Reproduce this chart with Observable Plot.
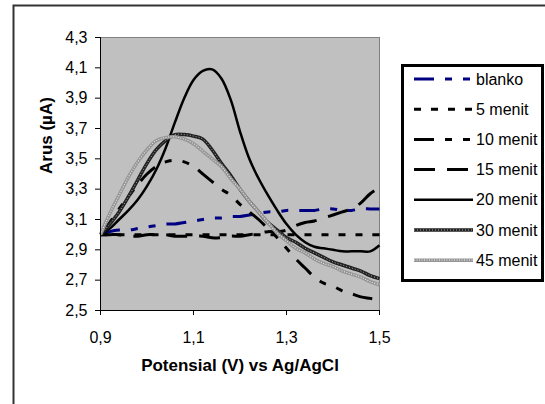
<!DOCTYPE html>
<html><head><meta charset="utf-8">
<script src="https://cdn.jsdelivr.net/npm/d3@7"></script>
<script src="https://cdn.jsdelivr.net/npm/@observablehq/plot@0.6"></script>
<style>body{margin:0;background:#fff}</style>
</head><body><div id="chart"></div>
<script>
// ---- data ----
const potential = [0.90,0.92,0.94,0.96,0.98,1.00,1.02,1.04,1.06,1.08,1.10,1.12,1.14,1.16,1.18,1.20,1.22,1.24,1.26,1.28,1.30,1.32,1.34,1.36,1.38,1.40,1.42,1.44,1.46,1.48,1.50];
const seriesNames = ["blanko","5 menit","10 menit","15 menit","20 menit","30 menit","45 menit"];
const blanko  = [3.00,3.02,3.03,3.03,3.04,3.05,3.06,3.07,3.07,3.08,3.09,3.10,3.11,3.11,3.12,3.12,3.13,3.14,3.15,3.15,3.16,3.16,3.16,3.16,3.17,3.17,3.16,3.16,3.17,3.17,3.17];
const menit5  = [3.00,3.00,3.00,3.00,3.00,3.00,3.00,3.00,3.00,3.00,3.00,3.00,3.00,3.00,3.00,3.00,3.00,3.00,3.00,3.00,3.00,3.00,3.00,3.00,3.00,3.00,3.00,3.00,3.00,3.00,3.00];
const menit10 = [3.00,3.08,3.17,3.25,3.33,3.40,3.45,3.48,3.49,3.48,3.45,3.40,3.35,3.30,3.26,3.20,3.15,3.10,3.04,2.98,2.91,2.84,2.78,2.72,2.68,2.66,2.63,2.61,2.59,2.58,2.57];
const menit15 = [3.00,3.00,3.00,2.99,2.99,3.00,3.00,3.00,2.99,2.99,2.99,2.99,2.98,2.98,2.99,2.99,3.00,3.01,3.02,3.02,3.03,3.06,3.08,3.09,3.11,3.13,3.15,3.17,3.21,3.27,3.31];
const menit20 = [3.00,3.04,3.10,3.16,3.23,3.32,3.43,3.57,3.74,3.90,4.02,4.08,4.09,4.03,3.89,3.68,3.50,3.37,3.26,3.16,3.07,3.00,2.95,2.92,2.91,2.90,2.89,2.89,2.89,2.89,2.93];
const menit30 = [3.00,3.07,3.15,3.25,3.36,3.47,3.56,3.62,3.66,3.66,3.65,3.63,3.56,3.47,3.39,3.30,3.22,3.15,3.08,3.03,2.98,2.95,2.91,2.88,2.85,2.82,2.80,2.78,2.76,2.73,2.71];
const menit45 = [3.00,3.14,3.26,3.38,3.48,3.56,3.62,3.64,3.645,3.63,3.60,3.55,3.50,3.45,3.37,3.30,3.22,3.15,3.08,3.01,2.96,2.91,2.88,2.84,2.81,2.79,2.76,2.74,2.72,2.69,2.67];
const yTicks = [2.5,2.7,2.9,3.1,3.3,3.5,3.7,3.9,4.1,4.3];
const xTicks = [0.9,1.1,1.3,1.5];
const xTitle = "Potensial (V) vs Ag/AgCl";
const yTitle = "Arus (µA)";

const seriesValues = [blanko, menit5, menit10, menit15, menit20, menit30, menit45];
const rows = seriesValues.map(vals => potential.map((x, i) => ({x, y: vals[i]})));

// ---- styles (layers per series) ----
const styles = [
  [{stroke:"#000080", w:3, dash:"20,11,7,11,7,11"}],
  [{stroke:"#000", w:3, dash:"7,10"}],
  [{stroke:"#000", w:3, dash:"20,11,7,11,7,11"}],
  [{stroke:"#000", w:3, dash:"21,12"}],
  [{stroke:"#000", w:2.5, dash:null}],
  [{stroke:"#222", w:3.5, dash:null},{stroke:"#aaa", w:1, dash:"1,2"}],
  [{stroke:"#959595", w:3.5, dash:null},{stroke:"#e2e2e2", w:1.2, dash:"1,1.5"}]
];

const fmt = d => d.toFixed(1).replace(".", ",");
const font = "'Liberation Sans', Arial, sans-serif";

const lineMarks = [];
rows.forEach((data, i) => {
  styles[i].forEach(s => {
    lineMarks.push(Plot.line(data, {x:"x", y:"y", stroke:s.stroke, strokeWidth:s.w,
      strokeDasharray:s.dash || undefined, strokeLinecap:"butt", curve:"catmull-rom"}));
  });
});

const plot = Plot.plot({
  width: 545, height: 404,
  marginLeft: 100, marginRight: 166, marginTop: 37, marginBottom: 94,
  style: {fontFamily: font, fontSize: "16px", color: "#000", background: "#fff", overflow: "visible"},
  x: {domain: [0.9, 1.5]},
  y: {domain: [2.5, 4.3]},
  marks: [
    Plot.frame({fill: "#c0c0c0", stroke: "#808080"}),
    ...lineMarks,
    Plot.ruleX([0.9], {stroke: "#000"}),
    Plot.ruleY([2.5], {stroke: "#000"}),
    Plot.axisY({ticks: yTicks, tickFormat: fmt, tickSize: 5, tickPadding: 8, label: null}),
    Plot.axisX({ticks: xTicks, tickFormat: fmt, tickSize: 5, tickPadding: 16, label: null}),
    Plot.text([xTitle], {text: d => d, frameAnchor: "bottom", dy: 60, fontWeight: "bold", fontSize: 17}),
    Plot.text([yTitle], {text: d => d, frameAnchor: "left", dx: -54, rotate: -90, fontWeight: "bold", fontSize: 17})
  ]
});

// ---- outer border and legend ----
const svg = d3.select(plot);
svg.append("rect").attr("x", 13.5).attr("y", 5.5).attr("width", 560).attr("height", 420)
  .attr("fill", "none").attr("stroke", "#333").attr("stroke-width", 2);
const lg = svg.append("g").attr("text-anchor", "start");
lg.append("rect").attr("x", 402.5).attr("y", 65.5).attr("width", 140).attr("height", 215)
  .attr("fill", "#fff").attr("stroke", "#000").attr("stroke-width", 3);
seriesNames.forEach((name, i) => {
  const y = 79 + i * 30.2;
  styles[i].forEach(s => {
    lg.append("line").attr("x1", 414).attr("x2", 473).attr("y1", y).attr("y2", y)
      .attr("stroke", s.stroke).attr("stroke-width", s.w)
      .attr("stroke-dasharray", s.dash).attr("stroke-linecap", "butt");
  });
  lg.append("text").attr("x", 476).attr("y", y).attr("dy", "0.35em")
    .attr("text-anchor", "start")
    .attr("font-size", 16).attr("font-family", font).text(name);
});

document.getElementById("chart").appendChild(plot);
</script>
</body></html>
